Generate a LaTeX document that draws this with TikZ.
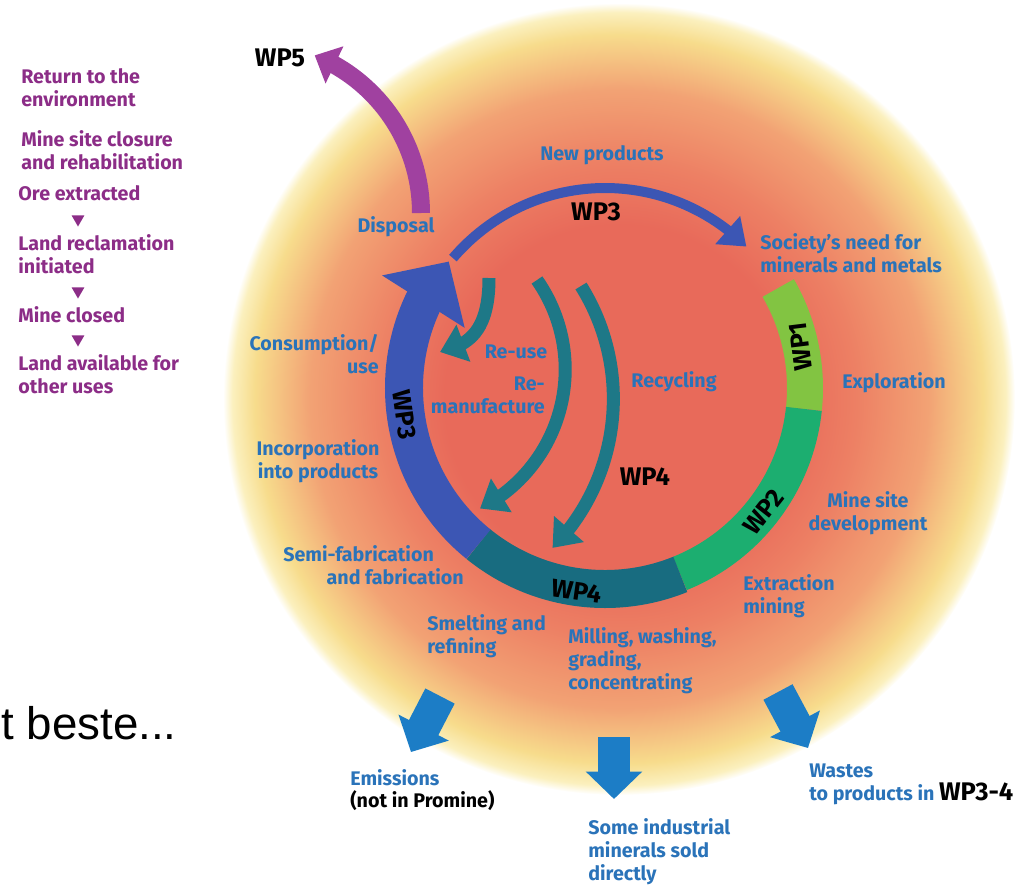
\documentclass[tikz,border=0pt]{standalone}
\usepackage{fontspec}
\setmainfont{Fira Sans}
\newfontfamily\slidefont{Liberation Sans}
\usepackage{tikz}
\usetikzlibrary{arrows.meta,bending,calc,shapes.geometric}

\definecolor{discred}{RGB}{232,106,90}
\definecolor{discsalmon}{RGB}{237,128,100}
\definecolor{discorange}{RGB}{242,162,116}
\definecolor{discyellow}{RGB}{247,220,140}
\definecolor{discpale}{RGB}{251,240,190}
\definecolor{lblblue}{RGB}{42,115,185}
\definecolor{envpurple}{RGB}{140,45,135}
\definecolor{wpfivepurple}{RGB}{160,65,160}
\definecolor{wponegreen}{RGB}{130,196,66}
\definecolor{wptwogreen}{RGB}{28,174,112}
\definecolor{wpthreeblue}{RGB}{60,86,180}
\definecolor{wpfourteal}{RGB}{24,108,128}
\definecolor{loopteal}{RGB}{30,120,135}
\definecolor{outblue}{RGB}{28,125,198}

\pgfdeclareradialshading{glow}{\pgfpoint{0bp}{0bp}}{%
  color(0bp)=(discred); color(11bp)=(discred); color(15bp)=(discsalmon);
  color(19.5bp)=(discorange); color(23bp)=(discyellow); color(24.4bp)=(discpale);
  color(25bp)=(white); color(50bp)=(white)}

\tikzset{
  lbl/.style={text=lblblue, font=\bfseries\fontsize{11.2}{13}\selectfont, inner sep=0pt},
  envlbl/.style={text=envpurple, font=\bfseries\fontsize{11.2}{13}\selectfont, inner sep=0pt, anchor=west, align=left},
  envtri/.style={regular polygon, regular polygon sides=3, shape border rotate=180, fill=envpurple, inner sep=0pt, minimum size=0.3cm},
  wplbl/.style={text=black, font=\bfseries\fontsize{14.5}{17}\selectfont, inner sep=0pt},
  ringseg/.style={line width=0.76cm},
  looparrow/.style={loopteal, line width=0.26cm, -{Triangle[length=0.5cm, width=0.76cm]}},
  outarrow/.style={outblue, line width=0.66cm, -{Triangle[length=0.55cm, width=1.1cm]}}
}

\begin{document}
\begin{tikzpicture}[x=0.02cm, y=0.02cm]
        \useasboundingbox (0,0) rectangle (1036,-887);

        % glow behind the cycle
        \coordinate (D) at (619,-399);
        \shade[shading=glow] (D) circle[radius=396];

        % the ring
        \coordinate (C) at (605,-388);
        \draw[ringseg, wponegreen, line width=0.72cm] ([shift={(30:200)}]C) arc[start angle=30, end angle=-6, radius=200];
        \draw[ringseg, wptwogreen, line width=0.72cm] ([shift={(-6:200)}]C) arc[start angle=-6, end angle=-68, radius=200];
        \draw[ringseg, wpfourteal] ([shift={(-68:201)}]C) arc[start angle=-68, end angle=-129, radius=201];
        \draw[ringseg, wpthreeblue, -{Triangle[length=0.95cm, width=1.9cm]}] ([shift={(-129:201)}]C) arc[start angle=-129, end angle=-219, radius=201];
        \draw[wpthreeblue, line width=0.2cm, -{Triangle[length=0.5cm, width=0.72cm]}] ([shift={(139.5:200)}]C) arc[start angle=139.5, end angle=45, radius=200];

        % disposal arrow
        \coordinate (dispstart) at (421,-213);
        \draw[wpfivepurple, line width=0.36cm, -{Triangle[length=0.44cm, width=0.8cm]}] (dispstart) arc[start angle=0, end angle=68, radius=170];

        % inner loops
        \draw[looparrow] (489,-278) .. controls (489,-330) and (470,-345) .. (440,-352);
        \draw[looparrow] (537,-280) arc[start angle=35, end angle=-63, radius=156];
        \draw[looparrow] (581,-286) arc[start angle=32, end angle=-44.4, radius=213];

        % outflows
        \coordinate (emisa) at (440,-696);
        \coordinate (emisb) at (411,-752);
        \coordinate (solda) at (614,-737);
        \coordinate (soldb) at (614,-799);
        \coordinate (wastea) at (778,-692);
        \coordinate (wasteb) at (808,-748);
        \draw[outarrow] (emisa) -- (emisb);
        \draw[outarrow] (solda) -- (soldb);
        \draw[outarrow] (wastea) -- (wasteb);

        % return to the environment
        \node[envlbl] (ret) at (21,-88) {Return to the\\environment};
        \node[envlbl] (closure) at (21,-150) {Mine site closure\\and rehabilitation};
        \node[envlbl] (ore) at (18,-193) {Ore extracted};
        \node[envtri] (tria) at (78,-219) {};
        \node[envlbl] (reclaim) at (18,-254) {Land reclamation\\initiated};
        \node[envtri] (trib) at (78,-291) {};
        \node[envlbl] (closed) at (18,-315) {Mine closed};
        \node[envtri] (tric) at (78,-339) {};
        \node[envlbl] (avail) at (18,-374) {Land available for\\other uses};

        % work packages
        \node[wplbl] (wpfive) at (280,-58) {WP5};
        \node[wplbl] (wpthreetop) at (596,-212) {WP3};
        \node[wplbl] (wpfourmid) at (645,-477) {WP4};
        \node[wplbl, rotate=97] (wpone) at ($(C)+(12:200)$) {WP1};
        \node[wplbl, rotate=52] (wptwo) at ($(C)+(-38:201)$) {WP2};
        \node[wplbl, rotate=-8] (wpfourring) at ($(C)+(-98:205)$) {WP4};
        \node[wplbl, rotate=-82] (wpthreering) at ($(C)+(187.5:202)$) {WP3};

        % stages
        \node[lbl] (newprod) at (602,-155) {New products};
        \node[lbl] (disposal) at (396,-227) {Disposal};
        \node[lbl, anchor=west, align=left] (society) at (760,-253) {Society's need for\\minerals and metals};
        \node[lbl] (explor) at (894,-383) {Exploration};
        \node[lbl, align=center] (minedev) at (868,-513) {Mine site\\development};
        \node[lbl, anchor=west, align=left] (extract) at (743,-596) {Extraction\\mining};
        \node[lbl, anchor=west, align=left] (milling) at (568,-661) {Milling, washing,\\grading,\\concentrating};
        \node[lbl, anchor=west, align=left] (smelt) at (427,-636) {Smelting and\\refining};
        \node[lbl, anchor=west, align=left] (semifab) at (283,-565) {Semi-fabrication\\\hspace*{2.2em}and fabrication};
        \node[lbl, align=center] (incorp) at (318,-461) {Incorporation\\into products};
        \node[lbl, anchor=east, align=right] (consum) at (379,-354) {Consumption/\\use};
        \node[lbl] (reuse) at (516,-352) {Re-use};
        \node[lbl, anchor=east, align=right] (reman) at (545,-395) {Re-\\manufacture};
        \node[lbl] (recyc) at (674,-382) {Recycling};

        % outflow texts
        \node[lbl, anchor=west, align=left] (emis) at (350,-790) {Emissions\\\textcolor{black}{(not in Promine)}};
        \node[lbl, anchor=west, align=left] (sold) at (588,-852) {Some industrial\\minerals sold\\directly};
        \node[lbl, anchor=west, align=left] (waste) at (809,-784) {Wastes\\to products in \textcolor{black}{\fontsize{14.5}{15}\selectfont WP3-4}};

        \node[font=\slidefont\fontsize{26}{30}\selectfont, anchor=west, inner sep=0pt] (slidetxt) at (1,-723) {t beste...};
    \end{tikzpicture}
\end{document}
